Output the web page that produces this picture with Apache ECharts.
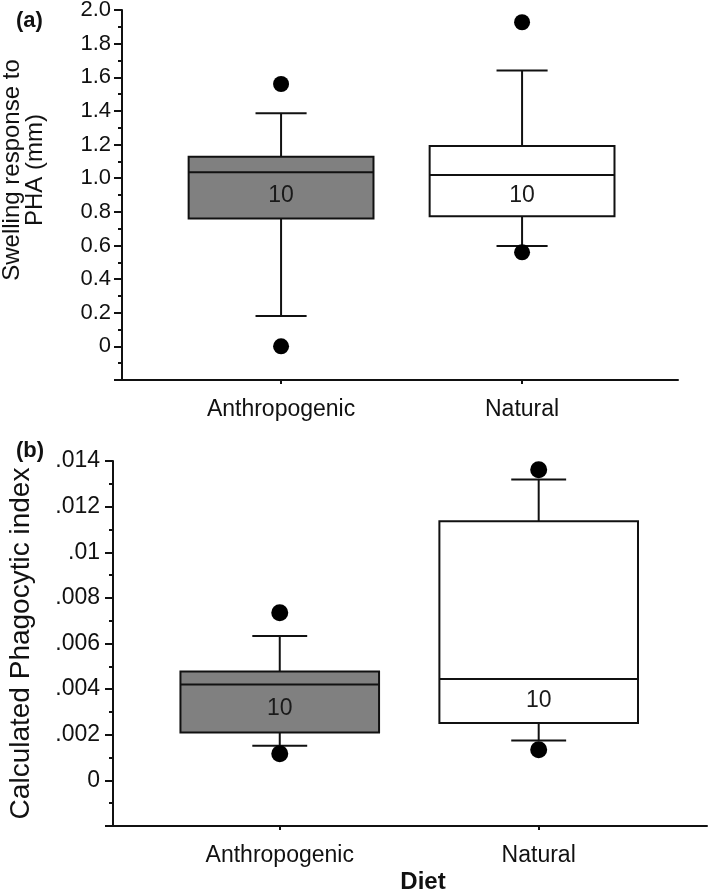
<!DOCTYPE html>
<html>
<head>
<meta charset="utf-8">
<script src="https://cdn.jsdelivr.net/npm/echarts@6/dist/echarts.min.js"></script>
<style>
html,body{margin:0;padding:0;background:#fff;}
#chart{width:709px;height:892px;}
</style>
</head>
<body>
<div id="chart"></div>
<script>
// ---- data ----
const categories = ['Anthropogenic', 'Natural'];
const sampleSizes = [10, 10];
// [xPosition, lowerWhisker, Q1, median, Q3, upperWhisker]
const swellingBoxes = [
  [1, 0.18, 0.76, 1.035, 1.128, 1.386],
  [2, 0.597, 0.773, 1.019, 1.191, 1.641]
];
const swellingOutliers = [[1, 1.56], [1, 0.0], [2, 1.927], [2, 0.559]];
const phagoBoxes = [
  [1, 0.00152, 0.0021, 0.0042, 0.00477, 0.00633],
  [2, 0.00175, 0.00252, 0.00444, 0.01136, 0.01319]
];
const phagoOutliers = [[1, 0.00735], [1, 0.00117], [2, 0.01362], [2, 0.00134]];

// ---- styles ----
const FONT = '"Liberation Sans", Arial, sans-serif';
const BOX_FILLS = ['#808080', '#ffffff'];
const BOX_WIDTH = 0.767;
const CAP_WIDTH = 0.212;

function withN(boxes) {
  return boxes.map((b, i) => b.concat([sampleSizes[i]]));
}

function renderBox(params, api) {
  const x = api.value(0);
  const lo = api.coord([x, api.value(1)]);
  const q1 = api.coord([x, api.value(2)]);
  const med = api.coord([x, api.value(3)]);
  const q3 = api.coord([x, api.value(4)]);
  const hi = api.coord([x, api.value(5)]);
  const n = api.value(6);
  const cx = lo[0];
  const hb = api.size([BOX_WIDTH, 0])[0] / 2;
  const hc = api.size([CAP_WIDTH, 0])[0] / 2;
  const ls = { stroke: '#111', lineWidth: 2 };
  return {
    type: 'group',
    children: [
      { type: 'line', shape: { x1: cx, y1: q3[1], x2: cx, y2: hi[1] }, style: ls },
      { type: 'line', shape: { x1: cx, y1: q1[1], x2: cx, y2: lo[1] }, style: ls },
      { type: 'line', shape: { x1: cx - hc, y1: hi[1], x2: cx + hc, y2: hi[1] }, style: ls },
      { type: 'line', shape: { x1: cx - hc, y1: lo[1], x2: cx + hc, y2: lo[1] }, style: ls },
      { type: 'rect', shape: { x: cx - hb, y: q3[1], width: 2 * hb, height: q1[1] - q3[1] },
        style: { fill: BOX_FILLS[params.dataIndex], stroke: '#111', lineWidth: 2 } },
      { type: 'line', shape: { x1: cx - hb, y1: med[1], x2: cx + hb, y2: med[1] }, style: ls },
      { type: 'text', x: cx, y: (med[1] + q1[1]) / 2,
        style: { text: String(n), fill: '#1a1a1a', font: '23px ' + FONT, align: 'center', verticalAlign: 'middle' } }
    ]
  };
}

function xAxisFor(gridIndex, min, max, fontSize, extra) {
  return Object.assign({
    gridIndex: gridIndex, type: 'value', min: min, max: max,
    axisLine: { show: true, onZero: false, lineStyle: { color: '#111', width: 2 } },
    axisTick: { show: true, customValues: [1, 2], length: 4, lineStyle: { color: '#111', width: 2 } },
    axisLabel: { show: true, customValues: [1, 2], margin: 18, color: '#111', fontSize: fontSize, fontFamily: FONT,
      formatter: v => categories[Math.round(v) - 1] || '' },
    splitLine: { show: false }
  }, extra || {});
}

const option = {
  backgroundColor: '#fff',
  animation: false,
  title: [
    { text: '(a)', left: 11, top: 5, textStyle: { fontFamily: FONT, fontWeight: 'bold', fontSize: 22, color: '#111' } },
    { text: '(b)', left: 11, top: 435, textStyle: { fontFamily: FONT, fontWeight: 'bold', fontSize: 22, color: '#111' } }
  ],
  grid: [
    { left: 122, right: 31, top: 10, height: 370, containLabel: false, outerBoundsMode: 'none' },
    { left: 113, right: 2, top: 461, height: 365, containLabel: false, outerBoundsMode: 'none' }
  ],
  xAxis: [
    xAxisFor(0, 0.34, 2.647, 23),
    xAxisFor(1, 0.356, 2.65, 23, {
      name: 'Diet', nameLocation: 'middle', nameGap: 44,
      nameTextStyle: { fontFamily: FONT, fontWeight: 'bold', fontSize: 24, color: '#111', padding: [0, 0, 0, 26] }
    })
  ],
  yAxis: [
    {
      gridIndex: 0, type: 'value', min: -0.2, max: 2.0, interval: 0.2,
      name: 'Swelling response to\nPHA (mm)', nameLocation: 'middle', nameGap: 75, nameRotate: 90,
      nameTextStyle: { fontFamily: FONT, fontSize: 24, color: '#111', lineHeight: 23, padding: [0, 0, 0, 50] },
      axisLine: { show: true, onZero: false, lineStyle: { color: '#111', width: 2 } },
      axisTick: { show: true, length: 8, lineStyle: { color: '#111', width: 2 } },
      minorTick: { show: true, splitNumber: 2, length: 4, lineStyle: { color: '#111', width: 2 } },
      axisLabel: { margin: 11, color: '#111', fontSize: 22, fontFamily: FONT,
        formatter: v => (v < -0.01 ? '' : (Math.abs(v) < 1e-9 ? '0' : v.toFixed(1))) },
      splitLine: { show: false }
    },
    {
      gridIndex: 1, type: 'value', min: -0.002, max: 0.014, interval: 0.002,
      name: 'Calculated Phagocytic index', nameLocation: 'middle', nameGap: 78, nameRotate: 90,
      nameTextStyle: { fontFamily: FONT, fontSize: 28, color: '#111' },
      axisLine: { show: true, onZero: false, lineStyle: { color: '#111', width: 2 } },
      axisTick: { show: true, length: 8, lineStyle: { color: '#111', width: 2 } },
      minorTick: { show: true, splitNumber: 2, length: 4, lineStyle: { color: '#111', width: 2 } },
      axisLabel: { margin: 13, color: '#111', fontSize: 23, fontFamily: FONT,
        formatter: v => (v < -1e-4 ? '' : String(Number(v.toFixed(3))).replace(/^0\./, '.')) },
      splitLine: { show: false }
    }
  ],
  series: [
    { type: 'custom', xAxisIndex: 0, yAxisIndex: 0, renderItem: renderBox, data: withN(swellingBoxes),
      encode: { x: 0, y: [1, 2, 3, 4, 5] }, z: 2 },
    { type: 'scatter', xAxisIndex: 0, yAxisIndex: 0, data: swellingOutliers, symbol: 'circle', symbolSize: 16,
      itemStyle: { color: '#000', opacity: 1 }, z: 3 },
    { type: 'custom', xAxisIndex: 1, yAxisIndex: 1, renderItem: renderBox, data: withN(phagoBoxes),
      encode: { x: 0, y: [1, 2, 3, 4, 5] }, z: 2 },
    { type: 'scatter', xAxisIndex: 1, yAxisIndex: 1, data: phagoOutliers, symbol: 'circle', symbolSize: 17,
      itemStyle: { color: '#000', opacity: 1 }, z: 3 }
  ]
};

const chart = echarts.init(document.getElementById('chart'), null, { renderer: 'canvas' });
chart.setOption(option);
</script>
</body>
</html>
